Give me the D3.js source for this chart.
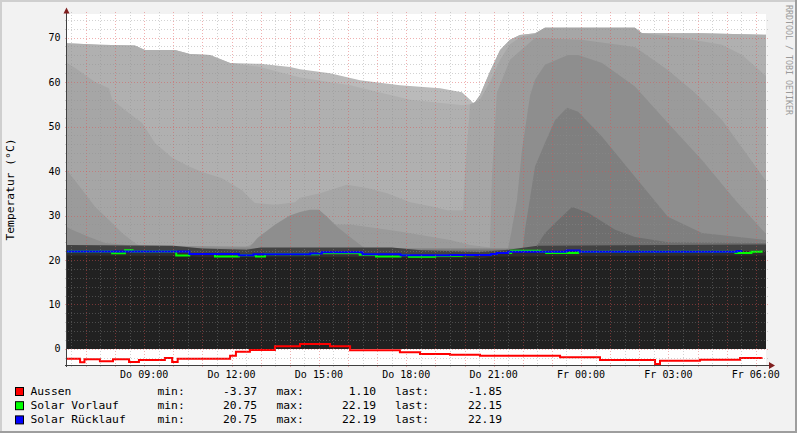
<!DOCTYPE html>
<html>
<head>
<meta charset="utf-8">
<script src="https://d3js.org/d3.v7.min.js"></script>
<style>
  body { margin: 0; background: #f2f2f2; }
  svg { display: block; font-family: "DejaVu Sans Mono", monospace; }
</style>
</head>
<body>
<svg id="chart" width="797" height="433"></svg>
<script>
// all times are hours since Do 00:00, values in °C

// grey tank layers, drawn back to front
var layerA = [[6.0,68.8],[7.48,68.4],[8.68,68.2],[9.03,67.2],[10.06,67.2],[10.57,66.3],[11.26,66.1],[11.95,64.3],[12.98,64.1],[14.01,63.4],[14.35,62.9],[15.38,62.0],[16.41,60.4],[17.78,59.3],[19.16,58.6],[19.91,57.7],[20.19,56.0],[20.32,55.1],[20.53,57.1],[20.87,62.3],[21.22,67.2],[21.56,69.5],[21.9,70.6],[22.42,71.0],[22.76,72.2],[25.85,72.2],[26.09,71.0],[28.15,71.0],[30.5,70.6]];
var layerB = [[6.0,68.8],[7.48,68.4],[8.68,68.2],[9.03,67.2],[10.06,67.2],[10.57,66.3],[11.26,66.1],[11.95,64.3],[12.98,63.4],[14.35,61.0],[16.07,59.3],[18.13,56.0],[19.95,54.8],[20.32,55.1],[20.53,57.1],[20.87,62.3],[21.22,67.2],[21.56,69.5],[21.9,70.6],[22.42,71.0],[22.76,72.2],[25.85,72.2],[26.09,71.0],[28.15,71.0],[30.5,70.6]];
var layerC = [[6.0,64.6],[6.35,64.3],[6.62,63.2],[7.31,60.0],[7.79,58.6],[7.9,56.0],[8.48,53.0],[8.93,50.8],[9.37,46.3],[9.96,43.0],[10.54,41.0],[10.99,39.8],[11.67,38.4],[12.36,35.7],[12.8,32.8],[13.49,32.4],[14.18,33.0],[14.35,34.0],[15.04,35.0],[15.96,36.9],[16.65,36.2],[17.34,35.0],[18.13,33.0],[18.92,32.0],[19.4,31.2],[19.95,31.2],[20.02,40.0],[20.19,55.0],[20.53,56.0],[20.87,60.0],[21.22,65.0],[21.56,68.5],[21.9,70.0],[22.42,70.8],[22.76,72.2],[25.85,72.2],[26.09,71.0],[27.33,70.1],[28.84,68.4],[29.53,66.1],[30.5,60.5]];
var layerD = [[6.0,40.6],[6.35,40.2],[6.52,38.7],[6.87,35.8],[7.31,32.0],[7.79,29.0],[8.24,26.1],[8.68,23.8],[8.93,22.9],[12.22,22.8],[12.39,22.6],[12.98,24.5],[13.56,26.8],[14.35,27.5],[15.38,28.0],[16.07,28.0],[17.78,26.4],[19.5,24.5],[20.19,23.4],[20.87,22.8],[20.94,38.7],[21.11,57.6],[21.56,65.0],[22.42,69.9],[24.0,69.5],[25.85,67.9],[26.98,62.7],[27.91,57.6],[28.84,51.5],[30.32,38.0],[30.5,37.5]];
var layerE = [[6.0,27.7],[6.35,27.4],[6.52,26.8],[7.11,25.2],[7.65,23.8],[8.5,23.3],[12.63,23.0],[12.9,25.0],[13.5,28.0],[14.0,30.0],[14.35,30.8],[14.69,31.3],[15.0,31.3],[15.28,29.7],[15.62,27.5],[16.07,25.2],[16.58,22.6],[21.49,22.5],[21.6,26.0],[21.8,33.5],[21.97,44.7],[22.25,57.0],[22.42,60.5],[22.76,63.9],[23.55,66.1],[23.9,66.1],[24.72,64.3],[25.85,59.0],[26.98,50.8],[28.15,42.5],[29.29,33.5],[30.32,26.1],[30.5,25.8]];
var layerF = [[6.0,22.6],[22.0,22.6],[22.08,27.0],[22.25,34.0],[22.42,41.0],[22.76,46.3],[23.11,51.5],[23.52,54.2],[23.9,53.3],[24.72,47.7],[25.85,38.7],[26.98,29.7],[28.15,26.1],[30.32,24.5],[30.5,24.4]];
var layerG = [[6.0,22.2],[22.3,22.2],[22.42,22.6],[22.76,26.0],[23.11,28.3],[23.69,31.9],[24.24,30.6],[25.17,26.8],[25.85,25.2],[26.98,24.0],[30.5,23.8]];
var layerH = [[6.0,23.4],[10.0,23.2],[11.0,22.6],[12.5,22.3],[13.0,22.8],[17.5,22.8],[18.5,22.2],[20.5,21.8],[21.5,22.3],[22.5,23.2],[30.5,23.5]];
var layerI = [[6.0,21.9],[10.55,21.5],[12.0,21.2],[18.0,21.0],[20.9,21.3],[21.6,21.9],[30.5,22.0]];
var layerBase = [[6.0,21.0],[10.5,20.9],[11.0,20.6],[17.5,20.6],[18.5,20.4],[20.6,20.4],[21.0,20.8],[30.5,21.0]];

var layers = [layerA, layerB, layerC, layerD, layerE, layerF, layerG, layerH, layerI, layerBase];
var layerColors = ["#bababa", "#b0b0b0", "#a6a6a6", "#9b9b9b", "#8e8e8e", "#7f7f7f", "#6e6e6e", "#424242", "#2e2e2e", "#212121"];

// measured lines (step values)
var aussen = [[6.0,-2.2],[6.8,-3.0],[6.95,-2.3],[7.48,-2.75],[7.93,-2.3],[8.48,-2.9],[8.82,-2.45],[9.71,-2.05],[9.96,-2.9],[10.15,-2.2],[11.95,-1.5],[12.15,-0.6],[12.63,-0.2],[13.49,0.6],[14.35,1.1],[15.38,0.6],[16.07,-0.3],[17.78,-0.75],[18.47,-1.1],[19.5,-1.3],[20.53,-1.5],[23.28,-1.85],[24.65,-2.5],[26.54,-3.37],[26.71,-2.65],[28.08,-2.4],[29.46,-2.05],[30.2,-1.85]];
var vorlauf = [[6.0,21.9],[7.9,21.5],[8.34,22.19],[8.6,21.9],[10.1,21.0],[10.55,21.35],[11.43,20.8],[12.25,21.05],[12.84,20.8],[13.15,21.3],[14.7,21.3],[15.0,21.6],[16.4,21.2],[16.96,20.8],[17.8,21.05],[18.09,20.75],[18.99,20.95],[19.9,21.05],[20.3,21.15],[20.9,21.35],[21.1,21.6],[21.6,22.1],[22.6,21.85],[22.8,21.55],[23.9,21.85],[29.3,21.6],[29.85,21.85],[30.2,22.15]];
var ruecklauf = [[6.0,21.9],[10.55,21.35],[12.25,21.05],[12.75,21.3],[14.7,21.45],[15.1,21.75],[16.5,21.3],[17.8,21.05],[19.5,21.1],[20.3,21.15],[20.9,21.35],[21.1,21.6],[21.5,21.85],[23.5,22.15],[23.95,21.85],[29.35,22.05],[29.5,22.19]];

var seriesNames = ["Aussen", "Solar Vorlauf", "Solar Rücklauf"];
var seriesColors = ["#ff0000", "#00ff00", "#0000ff"];
var seriesMin = ["-3.37", "20.75", "20.75"];
var seriesMax = ["1.10", "22.19", "22.19"];
var seriesLast = ["-1.85", "22.15", "22.19"];

var dayNames = ["So", "Mo", "Di", "Mi", "Do", "Fr", "Sa"];

var W = 797, H = 433;
var plotL = 67, plotR = 766, plotT = 14, plotB = 365;
var baseDay = Date.UTC(2010, 0, 7);
function T(h) { return new Date(baseDay + h * 3600e3); }

var x = d3.scaleUtc().domain([T(6.35), T(30.35)]).range([plotL, plotR]);
var y = d3.scaleLinear().domain([-3.6, 75.3]).range([plotB, plotT]);

var svg = d3.select("#chart");

// background and 3d frame
svg.append("rect").attr("width", W).attr("height", H).attr("fill", "#f2f2f2");
svg.append("path").attr("d", "M0,0H797V2H2V433H0Z").attr("fill", "#cfcfcf");
svg.append("path").attr("d", "M797,0V433H0V431H795V0Z").attr("fill", "#9e9e9e");

svg.append("rect")
  .attr("x", plotL).attr("y", plotT)
  .attr("width", plotR - plotL).attr("height", plotB - plotT)
  .attr("fill", "#ffffff");

svg.append("clipPath").attr("id", "plotclip")
  .append("rect")
  .attr("x", plotL).attr("y", plotT)
  .attr("width", plotR - plotL).attr("height", plotB - plotT);

var plot = svg.append("g").attr("clip-path", "url(#plotclip)");

var area = d3.area()
  .x(function(d) { return x(T(d[0])); })
  .y0(y(0))
  .y1(function(d) { return y(d[1]); });

plot.selectAll(".layer")
  .data(layers)
  .enter().append("path")
  .attr("class", "layer")
  .attr("d", area)
  .attr("fill", function(d, i) { return layerColors[i]; });

var line = d3.line()
  .curve(d3.curveStepAfter)
  .x(function(d) { return x(T(d[0])); })
  .y(function(d) { return y(d[1]); });

plot.selectAll(".series")
  .data([aussen, vorlauf, ruecklauf])
  .enter().append("path")
  .attr("class", "series")
  .attr("d", line)
  .attr("fill", "none")
  .attr("stroke", function(d, i) { return seriesColors[i]; })
  .attr("stroke-width", 2);

// grid
var grid = svg.append("g").attr("shape-rendering", "crispEdges");
var minorCol = "rgba(143,143,143,0.4)", majorCol = "rgba(222,79,79,0.45)";

var halfHours = d3.utcMinute.every(30).range(T(6.35), T(30.36));
halfHours.forEach(function(t) {
  var px = Math.round(x(t)) + 0.5;
  grid.append("line")
    .attr("x1", px).attr("x2", px).attr("y1", plotT - 2).attr("y2", plotB + 2)
    .attr("stroke", t.getUTCMinutes() === 0 ? majorCol : minorCol)
    .attr("stroke-dasharray", "1,2");
});

d3.range(-2, 76, 2).forEach(function(v) {
  if (y(v) > plotB || y(v) < plotT) return;
  var py = Math.round(y(v)) + 0.5;
  grid.append("line")
    .attr("x1", plotL - 2).attr("x2", plotR + 2).attr("y1", py).attr("y2", py)
    .attr("stroke", v % 10 === 0 ? majorCol : minorCol)
    .attr("stroke-dasharray", "1,2");
});

// axes
svg.append("line")
  .attr("x1", plotL - 0.5).attr("x2", plotL - 0.5).attr("y1", plotT - 2).attr("y2", plotB + 2)
  .attr("stroke", "#404040");
svg.append("line")
  .attr("x1", plotL - 2).attr("x2", plotR + 4).attr("y1", plotB + 0.5).attr("y2", plotB + 0.5)
  .attr("stroke", "#404040");
svg.append("path").attr("d", "M63.5,13.5L66.5,7.5L69.5,13.5Z").attr("fill", "#801f1f");
svg.append("path").attr("d", "M769,362L775,365.5L769,369Z").attr("fill", "#801f1f");

// tick labels
var fmt = d3.utcFormat("%H:%M");
svg.selectAll(".xlab")
  .data(d3.utcHour.every(3).range(T(6.35), T(30.36)))
  .enter().append("text")
  .attr("class", "xlab")
  .attr("x", function(d) { return x(d); })
  .attr("y", 378)
  .attr("text-anchor", "middle")
  .attr("font-size", 10)
  .text(function(d) { return dayNames[d.getUTCDay()] + " " + fmt(d); });

svg.selectAll(".ylab")
  .data(d3.range(0, 71, 10))
  .enter().append("text")
  .attr("class", "ylab")
  .attr("x", 60.5)
  .attr("y", function(d) { return y(d) + 3.5; })
  .attr("text-anchor", "end")
  .attr("font-size", 10)
  .text(function(d) { return d; });

svg.append("text")
  .attr("transform", "translate(14,189.5) rotate(-90)")
  .attr("text-anchor", "middle")
  .attr("font-size", 11.3)
  .text("Temperatur (°C)");

svg.append("text")
  .attr("transform", "translate(786,5) rotate(90)")
  .attr("font-size", 8.3)
  .attr("fill", "#9a9a9a")
  .text("RRDTOOL / TOBI OETIKER");

// legend
var rows = svg.selectAll(".leg")
  .data(seriesNames)
  .enter().append("g")
  .attr("class", "leg")
  .attr("transform", function(d, i) { return "translate(0," + (395 + i * 14.2) + ")"; })
  .attr("font-size", 11.3);

rows.append("rect")
  .attr("x", 15.5).attr("y", -7.5).attr("width", 8).attr("height", 8)
  .attr("fill", function(d, i) { return seriesColors[i]; })
  .attr("stroke", "#000");
rows.append("text").attr("x", 30.5).text(function(d) { return d; });
rows.append("text").attr("x", 157.5).text("min:");
rows.append("text").attr("x", 257).attr("text-anchor", "end").text(function(d, i) { return seriesMin[i]; });
rows.append("text").attr("x", 276.5).text("max:");
rows.append("text").attr("x", 376).attr("text-anchor", "end").text(function(d, i) { return seriesMax[i]; });
rows.append("text").attr("x", 395).text("last:");
rows.append("text").attr("x", 502).attr("text-anchor", "end").text(function(d, i) { return seriesLast[i]; });
</script>
</body>
</html>
